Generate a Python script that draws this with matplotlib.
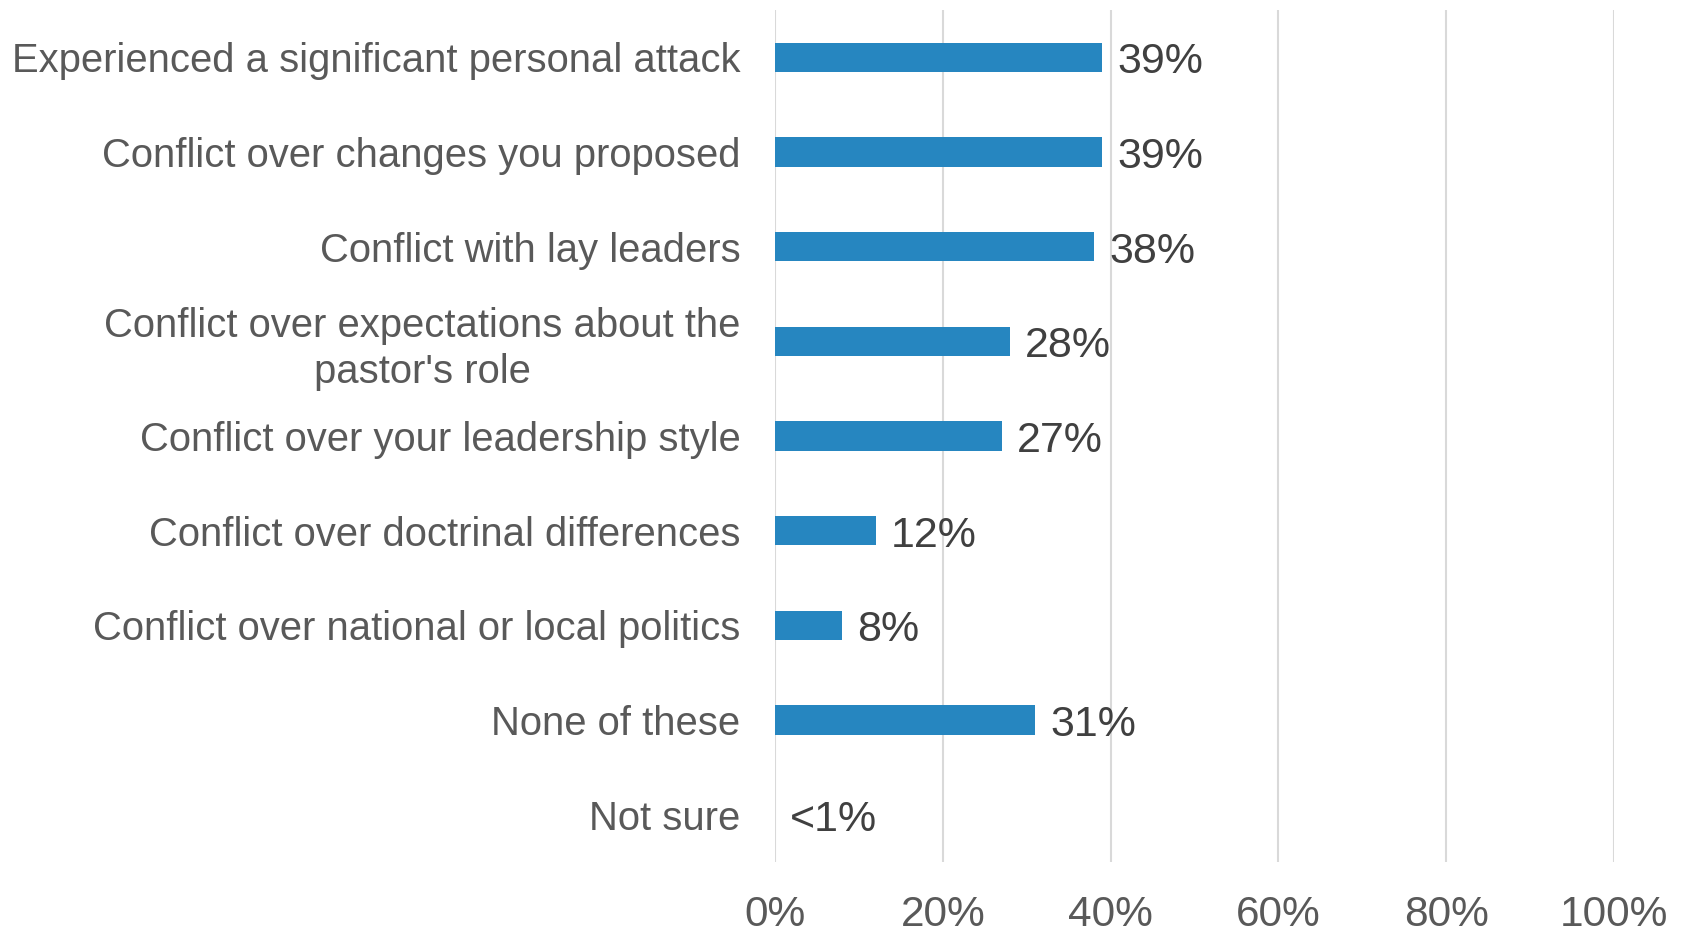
import numpy as np
import matplotlib.pyplot as plt

categories = [
    "Experienced a significant personal attack",
    "Conflict over changes you proposed",
    "Conflict with lay leaders",
    "Conflict over expectations about the\npastor's role",
    "Conflict over your leadership style",
    "Conflict over doctrinal differences",
    "Conflict over national or local politics",
    "None of these",
    "Not sure",
]
values = [39, 39, 38, 28, 27, 12, 8, 31, 0]
value_labels = ["39%", "39%", "38%", "28%", "27%", "12%", "8%", "31%", "<1%"]
xticks = [0, 20, 40, 60, 80, 100]

plt.rcParams['font.family'] = ['Liberation Sans', 'DejaVu Sans']

fig = plt.figure(figsize=(16.87, 9.32), dpi=100)
ax = fig.add_axes([0.4594, 0.0751, 0.4973, 0.9142])

y = np.arange(len(categories))
ax.barh(y, values, height=0.31, color='#2686C0', zorder=3)

for yi, v, lab in zip(y, values, value_labels):
    ax.annotate(lab, (v, yi), xytext=(11, -3.5), textcoords='offset points',
                ha='left', va='center', fontsize=31, color='#404040')

ax.set_xlim(0, 100)
ax.set_ylim(len(categories) - 0.5, -0.5)
ax.set_xticks(xticks)
ax.set_xticklabels([f"{t}%" for t in xticks], fontsize=30.5, color='#595959')
ax.set_yticks(y)
ax.set_yticklabels(categories, fontsize=28.8, color='#595959', multialignment='center',
                   linespacing=1.25)
ax.tick_params(axis='both', length=0)
ax.tick_params(axis='y', pad=25)
ax.tick_params(axis='x', pad=24)
ax.xaxis.grid(True, color='#D9D9D9', linewidth=1.5, zorder=0)
for s in ax.spines.values():
    s.set_visible(False)

fig.savefig("out.png", dpi=100)
